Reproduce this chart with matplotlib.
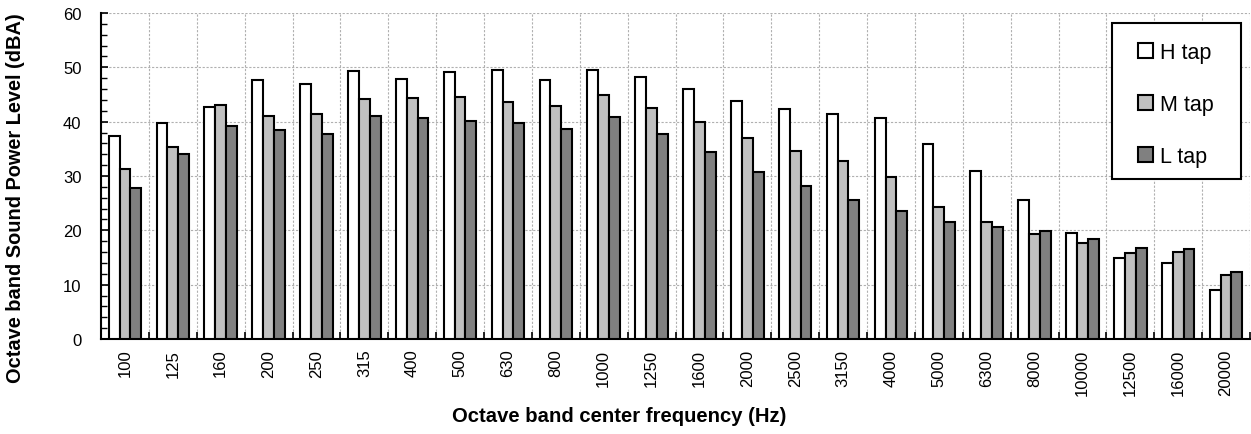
import matplotlib
matplotlib.use("Agg")
import matplotlib.pyplot as plt
import numpy as np
from matplotlib.ticker import MultipleLocator
from matplotlib.patches import Rectangle

plt.rcParams['font.family'] = ['Liberation Sans', 'DejaVu Sans']

categories = ["100", "125", "160", "200", "250", "315", "400", "500", "630", "800",
              "1000", "1250", "1600", "2000", "2500", "3150", "4000", "5000", "6300",
              "8000", "10000", "12500", "16000", "20000"]
h_tap = [37.4, 39.7, 42.7, 47.7, 46.9, 49.4, 47.9, 49.1, 49.5, 47.7,
         49.6, 48.2, 46.1, 43.8, 42.3, 41.5, 40.7, 35.8, 30.9, 25.5,
         19.6, 14.9, 13.9, 9.1]
m_tap = [31.2, 35.3, 43.1, 41.0, 41.4, 44.2, 44.4, 44.6, 43.6, 42.8,
         45.0, 42.6, 39.9, 37.0, 34.6, 32.8, 29.8, 24.3, 21.5, 19.4,
         17.6, 15.8, 16.0, 11.7]
l_tap = [27.7, 34.1, 39.2, 38.5, 37.7, 41.0, 40.7, 40.1, 39.7, 38.6,
         40.9, 37.7, 34.5, 30.7, 28.1, 25.5, 23.6, 21.6, 20.7, 19.8,
         18.4, 16.7, 16.5, 12.4]
series_labels = ["H tap", "M tap", "L tap"]
colors = ["#ffffff", "#c0c0c0", "#808080"]

W, H = 1251, 435
fig = plt.figure(figsize=(W/100, H/100), dpi=100)
ax = fig.add_axes([101/W, 1 - 340/H, (1250-101)/W, (340-14)/H])

n = len(categories)
x = np.arange(n)
w = 0.227
for i, (vals, lab, c) in enumerate(zip([h_tap, m_tap, l_tap], series_labels, colors)):
    ax.bar(x + (i - 1) * w, vals, width=w, color=c, edgecolor='black',
           linewidth=1.5, label=lab, zorder=3)

ax.set_xlim(-0.5, n - 0.5)
ax.set_ylim(0, 60)
ax.yaxis.set_major_locator(MultipleLocator(10))
ax.yaxis.set_minor_locator(MultipleLocator(2))
ax.set_xticks(x)
ax.set_xticklabels(categories, rotation=90, fontsize=12)
ax.set_xticks(np.arange(-0.5, n, 1), minor=True)
ax.tick_params(axis='x', which='major', length=0, pad=7)
ax.tick_params(axis='x', which='minor', direction='in', length=5, width=1.2)
ax.tick_params(axis='y', which='major', direction='in', length=5, width=1.2, labelsize=12, pad=14)
ax.tick_params(axis='y', which='minor', direction='in', length=4, width=1.0)

ax.grid(True, axis='y', which='major', linestyle=(0, (2, 1.5)), color='#b0b0b0', linewidth=0.8, zorder=0)
ax.grid(True, axis='x', which='minor', linestyle=(0, (2, 1.5)), color='#b0b0b0', linewidth=0.8, zorder=0)

for s in ['top', 'right']:
    ax.spines[s].set_visible(False)
ax.spines['left'].set_linewidth(1.5)
ax.spines['bottom'].set_linewidth(1.5)

fig.text(16/W, 1 - 198/H, "Octave band Sound Power Level (dBA)", rotation=90,
         ha='center', va='center', fontsize=14.4, fontweight='bold')
fig.text(619/W, 1 - 417/H, "Octave band center frequency (Hz)",
         ha='center', va='center', fontsize=14.6, fontweight='bold')

# legend box
box = Rectangle((1112/W, 1 - 180/H), (1241-1112)/W, (180-24)/H, transform=fig.transFigure,
                facecolor='white', edgecolor='black', linewidth=1.5, zorder=4, clip_on=False)
ax.add_artist(box)
leg = ax.legend(loc='upper left', bbox_to_anchor=((1138-101)/1149, (340-43)/326), fontsize=15.5,
                frameon=False, handlelength=0.7, handleheight=0.7, handletextpad=0.3,
                labelspacing=1.45, borderpad=0, borderaxespad=0)
leg.set_zorder(5)
for p in leg.get_patches():
    p.set_linewidth(1.5)

fig.savefig("out.png", dpi=100)
